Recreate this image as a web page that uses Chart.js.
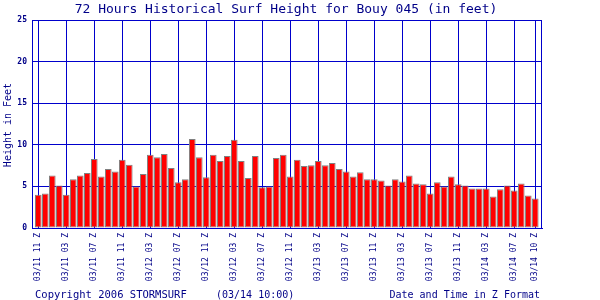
<!DOCTYPE html>
<html>
<head>
<meta charset="utf-8">
<title>Surf Height Bouy 045</title>
<script src="https://cdn.jsdelivr.net/npm/chart.js@4.4.0/dist/chart.umd.min.js"></script>
<style>
  html, body { margin: 0; padding: 0; background: #ffffff; }
  #wrap { width: 600px; height: 300px; }
</style>
</head>
<body>
<div id="wrap"><canvas id="surf" width="600" height="300"></canvas></div>
<script>
// surf height per hour, 03/11 11z -> 03/14 10z (feet)
const heights = [
  4.0, 4.15, 6.3, 5.1, 4.0, 5.85, 6.3, 6.6, 8.3, 6.2,
  7.1, 6.8, 8.2, 7.6, 5.0, 6.5, 8.8, 8.5, 8.9, 7.2,
  5.5, 5.85, 10.7, 8.5, 6.1, 8.8, 8.05, 8.65, 10.6, 8.05,
  6.0, 8.65, 4.9, 5.0, 8.4, 8.8, 6.2, 8.2, 7.45, 7.55,
  8.05, 7.55, 7.8, 7.1, 6.8, 6.2, 6.7, 5.85, 5.85, 5.7,
  5.1, 5.85, 5.6, 6.3, 5.35, 5.25, 4.15, 5.5, 5.0, 6.2,
  5.25, 5.1, 4.75, 4.75, 4.75, 3.8, 4.65, 5.1, 4.5, 5.35,
  3.9, 3.55
];

// hour index of each labelled tick and its text
const tickHours = [0, 4, 8, 12, 16, 20, 24, 28, 32, 36, 40, 44, 48, 52, 56, 60, 64, 68, 71];
const tickLabels = [
  "03/11 11 Z", "03/11 03 Z", "03/11 07 Z", "03/11 11 Z",
  "03/12 03 Z", "03/12 07 Z", "03/12 11 Z", "03/12 03 Z",
  "03/12 07 Z", "03/12 11 Z", "03/13 03 Z", "03/13 07 Z",
  "03/13 11 Z", "03/13 03 Z", "03/13 07 Z", "03/13 11 Z",
  "03/14 03 Z", "03/14 07 Z", "03/14 10 Z"
];
const yTicks = [0, 5, 10, 15, 20, 25];

const titleText = "72 Hours Historical Surf Height for Bouy 045 (in feet)";
const yTitle = "Height in Feet";
const copyText = "Copyright 2006 STORMSURF";
const stampText = "(03/14 10:00)";
const xTitle = "Date and Time in Z Format";

const navy = "#000088";
const gridBlue = "#0000cc";
const mono = "'DejaVu Sans Mono', 'Liberation Mono', monospace";

var points = heights.map(function (v, i) {
  return { x: i, y: v };
});

// title, axis titles, footer and frame
var decor = {
  id: "decor",
  afterDraw: function (chart) {
    var ctx = chart.ctx;
    var a = chart.chartArea;
    ctx.save();
    ctx.strokeStyle = gridBlue;
    ctx.lineWidth = 1;
    ctx.strokeRect(Math.round(a.left) + 0.5, Math.round(a.top) + 0.5,
      Math.round(a.right - a.left) - 1, Math.round(a.bottom - a.top));

    ctx.fillStyle = navy;
    ctx.textBaseline = "alphabetic";
    ctx.font = "13px " + mono;
    ctx.textAlign = "center";
    ctx.fillText(titleText, 286, 13);

    ctx.textAlign = "left";
    ctx.font = "10.5px " + mono;
    ctx.fillText(copyText, 35, 298);
    ctx.font = "10px " + mono;
    ctx.fillText(stampText, 216, 298);
    ctx.textAlign = "right";
    ctx.fillText(xTitle, 540, 298);

    ctx.translate(11, 125);
    ctx.rotate(-Math.PI / 2);
    ctx.textAlign = "center";
    ctx.fillText(yTitle, 0, 0);
    ctx.restore();
  }
};

var chart = new Chart(document.getElementById("surf"), {
  type: "bar",
  data: {
    datasets: [
      {
        data: points,
        backgroundColor: "#ff0000",
        borderColor: "#808080",
        borderWidth: 1,
        borderSkipped: false,
        barPercentage: 0.95,
        categoryPercentage: 1.0
      }
    ]
  },
  options: {
    responsive: false,
    animation: false,
    layout: { padding: { top: 20, right: 58, bottom: 0, left: 0 } },
    plugins: {
      legend: { display: false },
      tooltip: { enabled: false },
      title: { display: false }
    },
    scales: {
      x: {
        type: "linear",
        offset: false,
        min: -0.9,
        max: 71.96,
        afterBuildTicks: function (scale) {
          scale.ticks = tickHours.map(function (h) { return { value: h }; });
        },
        afterFit: function (scale) { scale.height = 72; },
        grid: { color: gridBlue, lineWidth: 1, offset: false, drawTicks: false },
        border: { color: gridBlue, width: 1 },
        ticks: {
          autoSkip: false,
          minRotation: 90,
          maxRotation: 90,
          padding: 5,
          color: navy,
          font: { family: mono, size: 8 },
          callback: function (value) {
            var k = tickHours.indexOf(value);
            return k < 0 ? "" : tickLabels[k];
          }
        }
      },
      y: {
        min: 0,
        max: 25,
        afterBuildTicks: function (scale) {
          scale.ticks = yTicks.map(function (v) { return { value: v }; });
        },
        afterFit: function (scale) { scale.width = 32; },
        grid: { color: gridBlue, lineWidth: 1, drawTicks: false },
        border: { color: gridBlue, width: 1 },
        ticks: {
          padding: 5,
          color: navy,
          font: { family: mono, size: 8, weight: "bold" }
        }
      }
    }
  },
  plugins: [decor]
});
</script>
</body>
</html>
